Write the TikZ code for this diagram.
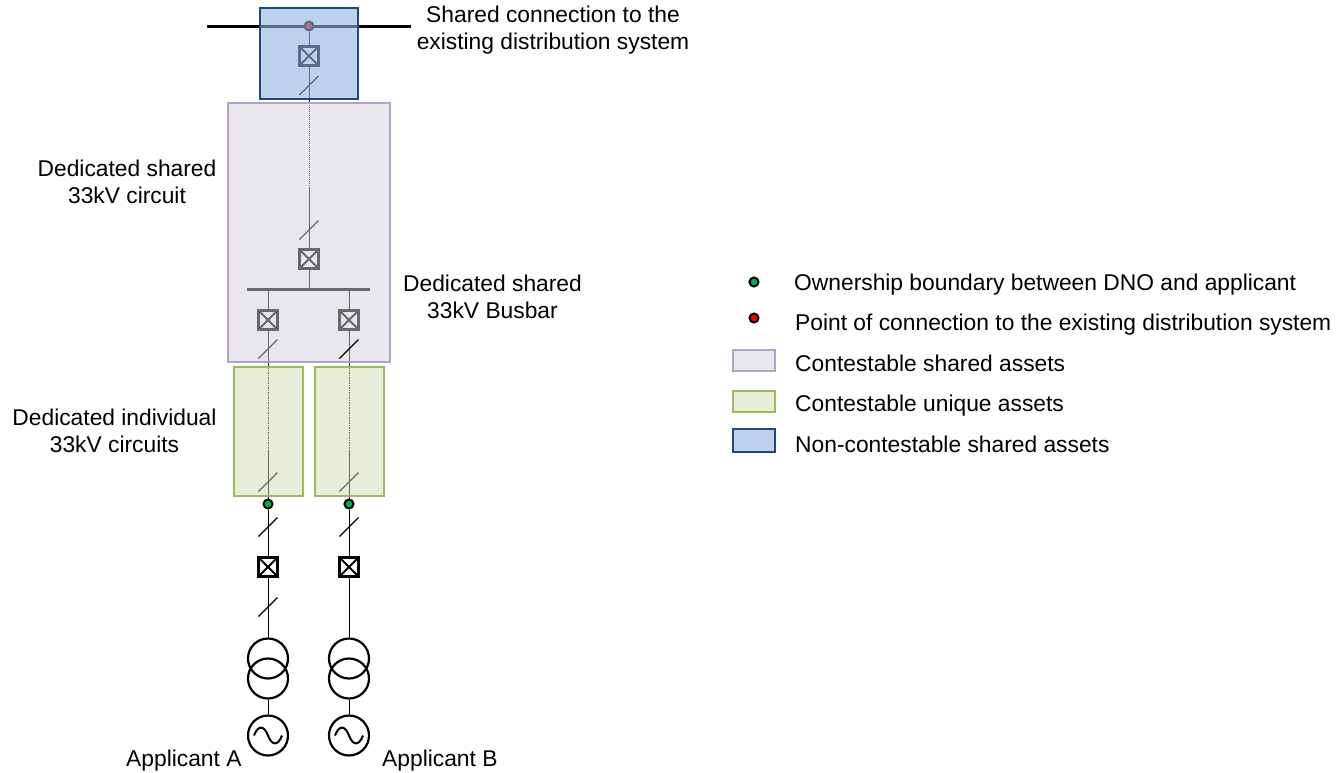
\documentclass[tikz,border=0pt]{standalone}
\usepackage{fontspec}
\setmainfont{Liberation Sans}
\usetikzlibrary{positioning}

\definecolor{nonconfill}{RGB}{145,180,223}
\definecolor{nonconline}{RGB}{31,73,125}
\definecolor{sharedfill}{RGB}{211,205,221}
\definecolor{sharedline}{RGB}{179,162,199}
\definecolor{uniquefill}{RGB}{209,219,181}
\definecolor{uniqueline}{RGB}{155,187,89}
\definecolor{dotgreen}{RGB}{0,176,80}

\tikzset{
  label/.style={font=\fontsize{22.8}{27}\selectfont, inner sep=0pt, align=center},
  legend/.style={label, anchor=base west},
  breaker/.style={draw, line width=2.8pt, fill=white, minimum size=19pt, inner sep=0pt,
    path picture={
      \draw[line width=2pt] (path picture bounding box.north west) -- (path picture bounding box.south east);
      \draw[line width=2pt] (path picture bounding box.south west) -- (path picture bounding box.north east);
    }},
  dot/.style={circle, draw, line width=2pt, minimum size=9pt, inner sep=0pt},
  winding/.style={circle, draw, line width=2.2pt, minimum size=40pt, inner sep=0pt},
  wire/.style={line width=1pt},
  bar/.style={line width=3pt},
  nonconbox/.style={draw=nonconline, line width=2.2pt, fill=nonconfill, fill opacity=.6},
  sharedbox/.style={draw=sharedline, line width=2.2pt, fill=sharedfill, fill opacity=.5},
  uniquebox/.style={draw=uniqueline, line width=2.2pt, fill=uniquefill, fill opacity=.5},
  slash/.pic={\draw[line width=1.2pt] (-9.5,9.5) -- (9.5,-9.5);}
}

\begin{document}
\begin{tikzpicture}[x=1pt, y=-1pt]
  \useasboundingbox (0,0) rectangle (1339,772);

  % Main bars and busbar
  \coordinate (barL) at (207,26);
  \coordinate (barR) at (411,26);
  \draw[bar] (barL) -- (barR);
  \coordinate (busL) at (247,289.5);
  \coordinate (busR) at (370,289.5);
  \coordinate (busT) at (309,289.5);
  \coordinate (busA) at (268,289.5);
  \coordinate (busB) at (349,289.5);
  \draw[bar] (busL) -- (busR);

  % Feeder
  \node[dot, fill=red] (poc) at (309,26) {};
  \node[breaker] (brkTop) at (309,56) {};
  \node[breaker] (brkMid) at (309,259) {};
  \draw[wire] (poc) -- (brkTop);
  \draw[wire] (brkTop) -- (309,103);
  \draw[wire, dash pattern=on 1pt off 1pt] (309,103) -- (309,187);
  \draw[wire] (309,187) -- (brkMid);
  \draw[wire] (brkMid) -- (busT);
  \pic at (309,85.5) {slash};
  \pic at (309,230) {slash};

  % Applicant branches
  \foreach \name/\x/\busname in {A/268/busA, B/349/busB} {
    \node[breaker] (brkUp\name) at (\x,320) {};
    \node[dot, fill=dotgreen] (own\name) at (\x,504) {};
    \node[breaker] (brkLow\name) at (\x,567) {};
    \node[winding] (txUp\name) at (\x,658.5) {};
    \node[winding] (txLow\name) at (\x,678.5) {};
    \node[winding] (gen\name) at (\x,735.5) {};
    \draw[wire] (\busname) -- (brkUp\name);
    \draw[wire] (brkUp\name) -- (\x,367);
    \draw[wire, dash pattern=on 1.5pt off 1pt] (\x,367) -- (\x,451);
    \draw[wire] (\x,451) -- (own\name);
    \draw[wire] (own\name) -- (brkLow\name);
    \draw[wire] (brkLow\name) -- (txUp\name);
    \draw[wire] (txLow\name) -- (gen\name);
    \draw[line width=2pt] (\x-14,735.5) .. controls (\x-10,725) and (\x-4,725) .. (\x,735.5)
      .. controls (\x+4,746) and (\x+10,746) .. (\x+14,735.5);
    \pic at (\x,482) {slash};
    \pic at (\x,527) {slash};
  }
  \pic at (268,349) {slash};
  \pic at (268,607) {slash};

  % Asset boxes
  \path[nonconbox] (260,8) rectangle (358,99);
  \path[sharedbox] (228,103) rectangle (390,362);
  \path[uniquebox] (234,367) rectangle (303,496);
  \path[uniquebox] (315,367) rectangle (384,496);
  \pic at (349,349) {slash};

  % Labels
  \node[label] (lblShared) at (553,30.5) {Shared connection to the\\existing distribution system};
  \node[label] (lblCircuit) at (127,181.5) {Dedicated shared\\33kV circuit};
  \node[label] (lblBusbar) at (492.5,297) {Dedicated shared\\33kV Busbar};
  \node[label] (lblIndiv) at (114.5,430.5) {Dedicated individual\\33kV circuits};
  \node[label, anchor=base west] (lblA) at (126,766) {Applicant A};
  \node[label, anchor=base west] (lblB) at (382,766) {Applicant B};

  % Legend
  \node[dot, fill=dotgreen] (keyOwn) at (754,282) {};
  \node[dot, fill=red] (keyPoc) at (754,318) {};
  \path[sharedbox] (733,350) rectangle (775,371);
  \path[uniquebox] (733,391) rectangle (775,412);
  \path[nonconbox] (733,429) rectangle (775,452);
  \node[legend] (txtOwn) at (794,290) {Ownership boundary between DNO and applicant};
  \node[legend] (txtPoc) at (795,330) {Point of connection to the existing distribution system};
  \node[legend] (txtShared) at (795,371) {Contestable shared assets};
  \node[legend] (txtUnique) at (795,411) {Contestable unique assets};
  \node[legend] (txtNoncon) at (795,452) {Non-contestable shared assets};
\end{tikzpicture}
\end{document}
